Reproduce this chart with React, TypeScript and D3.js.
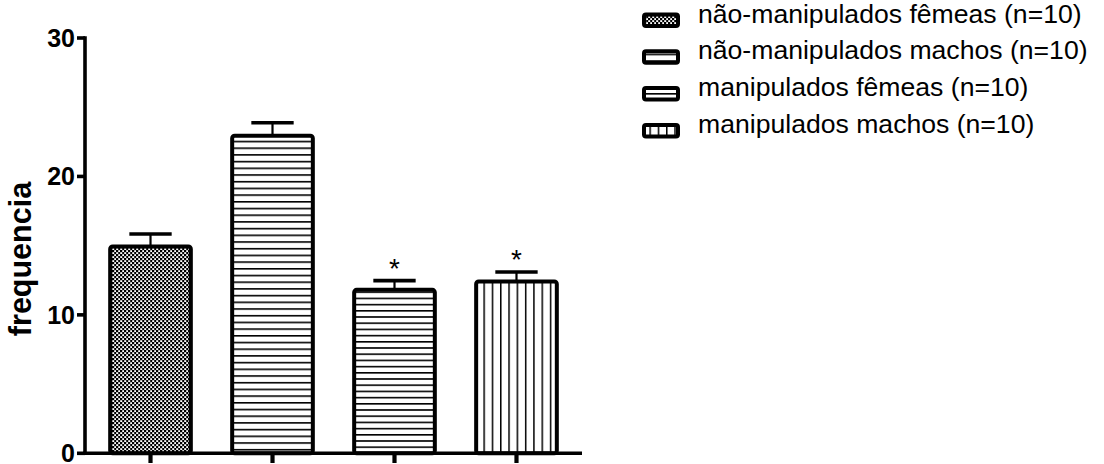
import React from "react";
import * as d3 from "d3";

const categories = [
  "não-manipulados fêmeas (n=10)",
  "não-manipulados machos (n=10)",
  "manipulados fêmeas (n=10)",
  "manipulados machos (n=10)",
];
const means = [14.94, 22.94, 11.81, 12.41];
const sems = [0.9, 0.94, 0.66, 0.69];
const significant = [false, false, true, true];
const yTicks = [0, 10, 20, 30];
const yLabel = "frequencia";
const patterns = ["check", "hlines", "hlines2", "vlines"];

const W = 1104;
const H = 464;
const FONT = "'Liberation Sans', Arial, Helvetica, sans-serif";

export default function App() {
  const y = d3.scaleLinear().domain([0, 30]).range([453.3, 38]);
  const x = d3
    .scaleBand<number>()
    .domain(d3.range(categories.length))
    .range([85, 582])
    .paddingInner(0.306)
    .paddingOuter(0.19);
  const bw = x.bandwidth();

  return (
    <svg
      width={W}
      height={H}
      style={{ position: "absolute", left: 0, top: 0, background: "#fff" }}
      fontFamily={FONT}
    >
      <defs>
        <pattern id="check" width={4} height={4} patternUnits="userSpaceOnUse">
          <rect width={4} height={4} fill="#000" />
          <rect x={0.2} y={0.2} width={2} height={1.8} fill="#fff" />
          <rect x={2.2} y={2.2} width={2} height={1.8} fill="#fff" />
        </pattern>
        <pattern id="hlines" width={8} height={6.7} patternUnits="userSpaceOnUse">
          <rect width={8} height={6.7} fill="#fff" />
          <rect y={0} width={8} height={1.6} fill="#000" />
        </pattern>
        <pattern id="hlines2" width={8} height={6.2} patternUnits="userSpaceOnUse">
          <rect width={8} height={6.2} fill="#fff" />
          <rect y={0} width={8} height={1.6} fill="#000" />
        </pattern>
        <pattern id="vlines" width={8.3} height={8} patternUnits="userSpaceOnUse" x={2}>
          <rect width={8.3} height={8} fill="#fff" />
          <rect x={0} width={1.5} height={8} fill="#000" />
        </pattern>
      </defs>

      {/* bars */}
      {means.map((m, i) => {
        const x0 = x(i)!;
        const cx = x0 + bw / 2;
        const top = y(m);
        const errTop = y(m + sems[i]);
        return (
          <g key={i}>
            <line x1={cx} x2={cx} y1={top} y2={errTop} stroke="#000" strokeWidth={2.2} />
            <line
              x1={cx - bw / 4}
              x2={cx + bw / 4}
              y1={errTop}
              y2={errTop}
              stroke="#000"
              strokeWidth={3.6}
            />
            <rect
              x={x0 + 2}
              y={top}
              width={bw - 4}
              height={y(0) - top}
              fill={`url(#${patterns[i]})`}
              stroke="#000"
              strokeWidth={4}
              rx={2.5}
            />
            {significant[i] && (
              <text
                x={cx}
                y={errTop - 2.5}
                textAnchor="middle"
                fontSize={28}
                fill="#000"
              >
                *
              </text>
            )}
          </g>
        );
      })}

      {/* axes */}
      <line x1={85} x2={85} y1={y(30) - 1.8} y2={y(0) + 1.8} stroke="#000" strokeWidth={3.6} />
      <line x1={83.2} x2={582} y1={y(0)} y2={y(0)} stroke="#000" strokeWidth={3.6} />
      {yTicks.map((t) => (
        <g key={t}>
          <line x1={77} x2={85} y1={y(t)} y2={y(t)} stroke="#000" strokeWidth={3.6} />
          <text
            x={75}
            y={y(t)}
            dy="0.36em"
            textAnchor="end"
            fontSize={25}
            fontWeight="bold"
            fill="#000"
          >
            {t}
          </text>
        </g>
      ))}
      {means.map((_, i) => {
        const cx = x(i)! + bw / 2;
        return (
          <line key={i} x1={cx} x2={cx} y1={y(0)} y2={463} stroke="#000" strokeWidth={4.2} />
        );
      })}
      <text
        transform={`translate(31,259) rotate(-90)`}
        textAnchor="middle"
        fontSize={30.5}
        fontWeight="bold"
        fill="#000"
      >
        {yLabel}
      </text>

      {/* legend */}
      {categories.map((c, i) => {
        const by = 22.5 + i * 36.8;
        return (
          <g key={c}>
            <rect
              x={644}
              y={by - 8}
              width={34}
              height={11.5}
              rx={2}
              fill={`url(#${patterns[i]})`}
              stroke="#000"
              strokeWidth={4}
            />
            <text x={698} y={by} fontSize={26.6} fill="#000">
              {c}
            </text>
          </g>
        );
      })}
    </svg>
  );
}
